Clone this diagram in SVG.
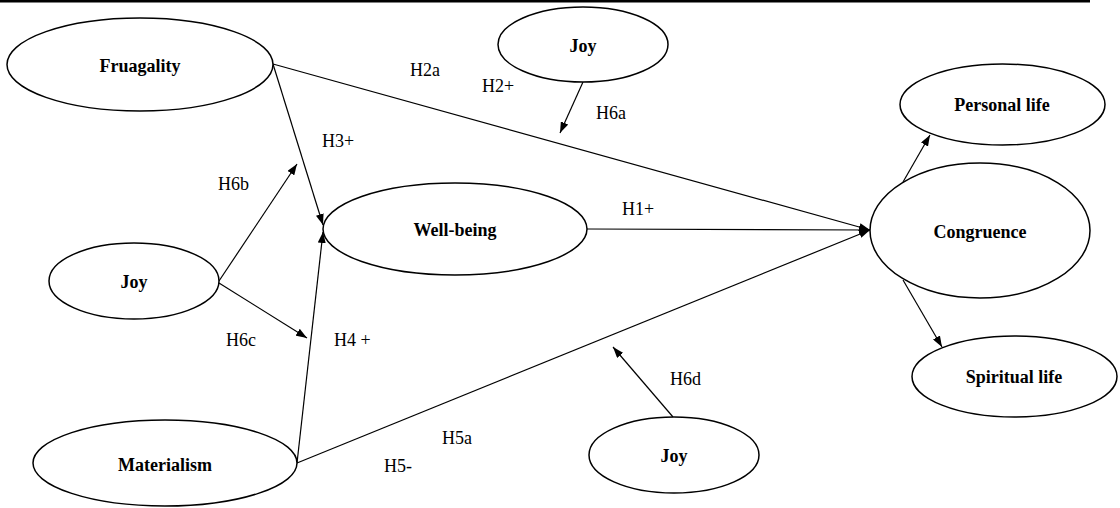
<svg xmlns="http://www.w3.org/2000/svg" width="1120" height="508" viewBox="0 0 1120 508">
<defs>
<marker id="ah" markerUnits="userSpaceOnUse" markerWidth="11" markerHeight="8" refX="11" refY="4" orient="auto">
<path d="M0,0 L11,4 L0,8 z" fill="#000"/>
</marker>
<style>
.n ellipse{fill:#fff;stroke:#000;stroke-width:1.5}
.n text{font-family:"Liberation Serif","Times New Roman",serif;font-weight:bold;font-size:18px;text-anchor:middle;fill:#000}
.c line{stroke:#000;stroke-width:1.2;marker-end:url(#ah)}
.lb{font-family:"Liberation Serif","Times New Roman",serif;font-size:18px;fill:#000}
</style>
</defs>
<rect x="0" y="0" width="1090" height="2.5" fill="#000"/>
<g id="connectors" class="c">
<line x1="273" y1="64" x2="870" y2="230"/>
<line x1="273" y1="64" x2="323" y2="225"/>
<line x1="297" y1="463" x2="323" y2="232"/>
<line x1="297" y1="463" x2="870" y2="230"/>
<line x1="587" y1="229" x2="870" y2="230"/>
<line x1="583" y1="82" x2="560" y2="133"/>
<line x1="219" y1="281" x2="297" y2="164"/>
<line x1="219" y1="283" x2="307" y2="338"/>
<line x1="673" y1="417" x2="613" y2="347"/>
<line x1="903" y1="182" x2="930" y2="135"/>
<line x1="903" y1="280" x2="942" y2="347"/>
</g>
<g id="fruagality" class="n"><ellipse cx="140" cy="64.5" rx="133" ry="46.5"/><text x="140" y="72">Fruagality</text></g>
<g id="joy-top" class="n"><ellipse cx="583" cy="44.5" rx="85" ry="37.5"/><text x="583" y="52">Joy</text></g>
<g id="personal-life" class="n"><ellipse cx="1002.5" cy="104.5" rx="102.5" ry="40.5"/><text x="1002" y="111">Personal life</text></g>
<g id="joy-left" class="n"><ellipse cx="134" cy="281" rx="85" ry="38"/><text x="134" y="288">Joy</text></g>
<g id="well-being" class="n"><ellipse cx="455" cy="229" rx="132" ry="46"/><text x="455" y="236">Well-being</text></g>
<g id="congruence" class="n"><ellipse cx="980" cy="230.5" rx="110" ry="67.5"/><text x="980" y="238">Congruence</text></g>
<g id="spiritual-life" class="n"><ellipse cx="1014.5" cy="376.5" rx="102.5" ry="40.5"/><text x="1014" y="383">Spiritual life</text></g>
<g id="joy-bottom" class="n"><ellipse cx="674" cy="455" rx="85" ry="38"/><text x="674" y="462">Joy</text></g>
<g id="materialism" class="n"><ellipse cx="165" cy="463" rx="132" ry="43"/><text x="165" y="471">Materialism</text></g>
<g id="labels">
<text class="lb" x="410" y="76">H2a</text>
<text class="lb" x="482" y="92">H2+</text>
<text class="lb" x="596" y="119">H6a</text>
<text class="lb" x="322" y="147">H3+</text>
<text class="lb" x="218" y="190">H6b</text>
<text class="lb" x="622" y="215">H1+</text>
<text class="lb" x="226" y="346">H6c</text>
<text class="lb" x="334" y="346">H4 +</text>
<text class="lb" x="670" y="385">H6d</text>
<text class="lb" x="442" y="444">H5a</text>
<text class="lb" x="384" y="472">H5-</text>
</g>
</svg>
